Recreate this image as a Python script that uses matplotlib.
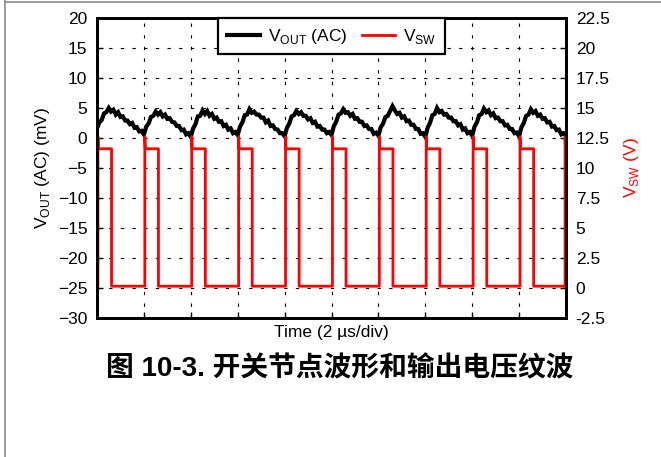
import numpy as np
import matplotlib
matplotlib.use("Agg")
import matplotlib.pyplot as plt
from matplotlib.lines import Line2D

plt.rcParams['font.family'] = ['Liberation Sans', 'Noto Sans CJK SC', 'DejaVu Sans']
plt.rcParams['mathtext.fontset'] = 'custom'
plt.rcParams['mathtext.rm'] = 'Liberation Sans'
plt.rcParams['lines.scale_dashes'] = False

# output ripple, sampled every 0.1 us (mV)
t_vout = np.arange(0, 201) * 0.1
vout_mv = [
    1.6, 2.6, 3.0, 4.1, 4.3, 5.0, 4.4, 4.7, 3.9, 4.3, 3.5, 3.6, 2.9, 2.9, 2.3, 2.5, 1.7, 1.8, 1.1, 1.2,
    0.6, 1.9, 2.4, 3.5, 3.7, 4.4, 3.9, 4.3, 3.6, 3.9, 3.2, 3.3, 2.7, 2.6, 2.0, 2.0, 1.3, 1.4, 0.6, 0.8,
    0.2, 1.6, 2.3, 3.6, 3.7, 4.6, 4.0, 4.5, 3.7, 4.0, 3.2, 3.4, 2.7, 2.8, 2.0, 2.2, 1.4, 1.6, 0.8, 1.0,
    0.5, 1.9, 2.6, 3.8, 3.9, 4.8, 4.2, 4.4, 3.9, 3.9, 3.4, 3.4, 2.6, 2.9, 2.0, 2.1, 1.5, 1.4, 0.8, 0.8,
    0.3, 1.7, 2.4, 3.6, 3.8, 4.5, 4.0, 4.3, 3.7, 3.7, 3.1, 3.3, 2.5, 2.7, 1.9, 2.0, 1.4, 1.4, 0.8, 1.0,
    0.5, 2.0, 2.7, 3.9, 4.1, 4.8, 4.2, 4.3, 3.7, 4.0, 3.2, 3.3, 2.7, 2.7, 2.0, 2.1, 1.5, 1.5, 0.7, 0.9,
    0.4, 1.8, 2.4, 3.5, 3.7, 4.5, 5.3, 4.6, 4.0, 4.2, 3.4, 3.6, 2.8, 2.9, 2.2, 2.2, 1.5, 1.5, 0.7, 0.8,
    0.2, 1.7, 2.5, 3.8, 4.0, 5.0, 4.3, 4.5, 3.9, 4.0, 3.4, 3.4, 2.8, 2.8, 2.1, 2.3, 1.4, 1.6, 0.8, 1.0,
    0.4, 1.9, 2.6, 3.8, 4.0, 4.9, 4.3, 4.6, 3.8, 4.1, 3.3, 3.4, 2.8, 2.8, 2.1, 2.2, 1.5, 1.5, 0.8, 0.9,
    0.3, 1.8, 2.5, 3.7, 3.9, 4.8, 4.2, 4.5, 3.7, 3.9, 3.2, 3.3, 2.6, 2.7, 1.9, 2.0, 1.3, 1.4, 0.6, 0.8,
    0.4,
]

# switch node edges (us) and levels (V)
rise_t = [0.04, 2.04, 4.04, 6.04, 8.04, 10.04, 12.04, 14.04, 16.04, 18.04, 19.96]
fall_t = [0.62, 2.62, 4.62, 6.62, 8.62, 10.62, 12.62, 14.62, 16.62, 18.62]
v_high = 11.6
v_peak = 12.6
v_low = 0.15

sw_t = [0.0]
sw_v = [v_low]
for i, tr in enumerate(rise_t):
    sw_t += [tr, tr, tr + 0.02]
    sw_v += [v_low, v_peak, v_high]
    if i < len(fall_t):
        sw_t += [fall_t[i], fall_t[i]]
        sw_v += [v_high, v_low]
    else:
        sw_t += [20.0]
        sw_v += [v_high]

fig = plt.figure(figsize=(6.61, 4.57), dpi=100)
ax = fig.add_axes([97 / 661, 1 - 318 / 457, 469 / 661, 300 / 457])
ax2 = ax.twinx()

l1, = ax.plot(t_vout, vout_mv, color='black', lw=3.0, solid_joinstyle='miter')
l2, = ax2.plot(sw_t, sw_v, color='#ff0000', lw=2.0)

ax.set_xlim(0, 20)
ax.set_ylim(-30, 20)
ax.set_yticks(np.arange(-30, 21, 5))
ax.set_xticks(np.arange(0, 21, 2))
ax.set_xticklabels([])
ax2.set_ylim(-2.5, 22.5)
ax2.set_yticks(np.arange(-2.5, 22.6, 2.5))
ax2.set_yticklabels([f"{v:g}" for v in np.arange(-2.5, 22.6, 2.5)])

ax.grid(True, color='black', lw=0.8, linestyle=(0, (2.4, 6.0)))
for a in (ax, ax2):
    a.tick_params(direction='in', length=4, width=1, labelsize=12.5, pad=7)
    for s in a.spines.values():
        s.set_linewidth(2.0)

ax.set_xlabel("Time (2 \u00b5s/div)", fontsize=12.5, labelpad=-2)
ax.set_ylabel("V$_\\mathregular{OUT}$ (AC) (mV)", fontsize=12.5, labelpad=4)
ax2.set_ylabel("V$_\\mathregular{SW}$ (V)", fontsize=12.5, color='#ff0000', labelpad=9)

leg = ax2.legend([l1, l2], ["V$_\\mathregular{OUT}$ (AC)", "V$_\\mathregular{SW}$"],
                 loc='upper center', ncol=2, fontsize=12.5, frameon=True, fancybox=False,
                 framealpha=1, edgecolor='black', borderaxespad=0, handlelength=1.9,
                 handletextpad=0.5, columnspacing=0.8, borderpad=0.5)
leg.get_frame().set_linewidth(1.6)

fig.text(340 / 661, 1 - 369 / 457, "图 10-3. 开关节点波形和输出电压纹波",
         fontsize=20, fontweight='bold', ha='center', va='center')

# outer frame of the page
fig.add_artist(Line2D([4.5 / 661, 4.5 / 661], [0, 1], color='#8c8c8c', lw=1.2))
fig.add_artist(Line2D([4.5 / 661, 1], [1 - 1.5 / 457, 1 - 1.5 / 457], color='#8c8c8c', lw=1.2))

fig.savefig("out.png", dpi=100)
